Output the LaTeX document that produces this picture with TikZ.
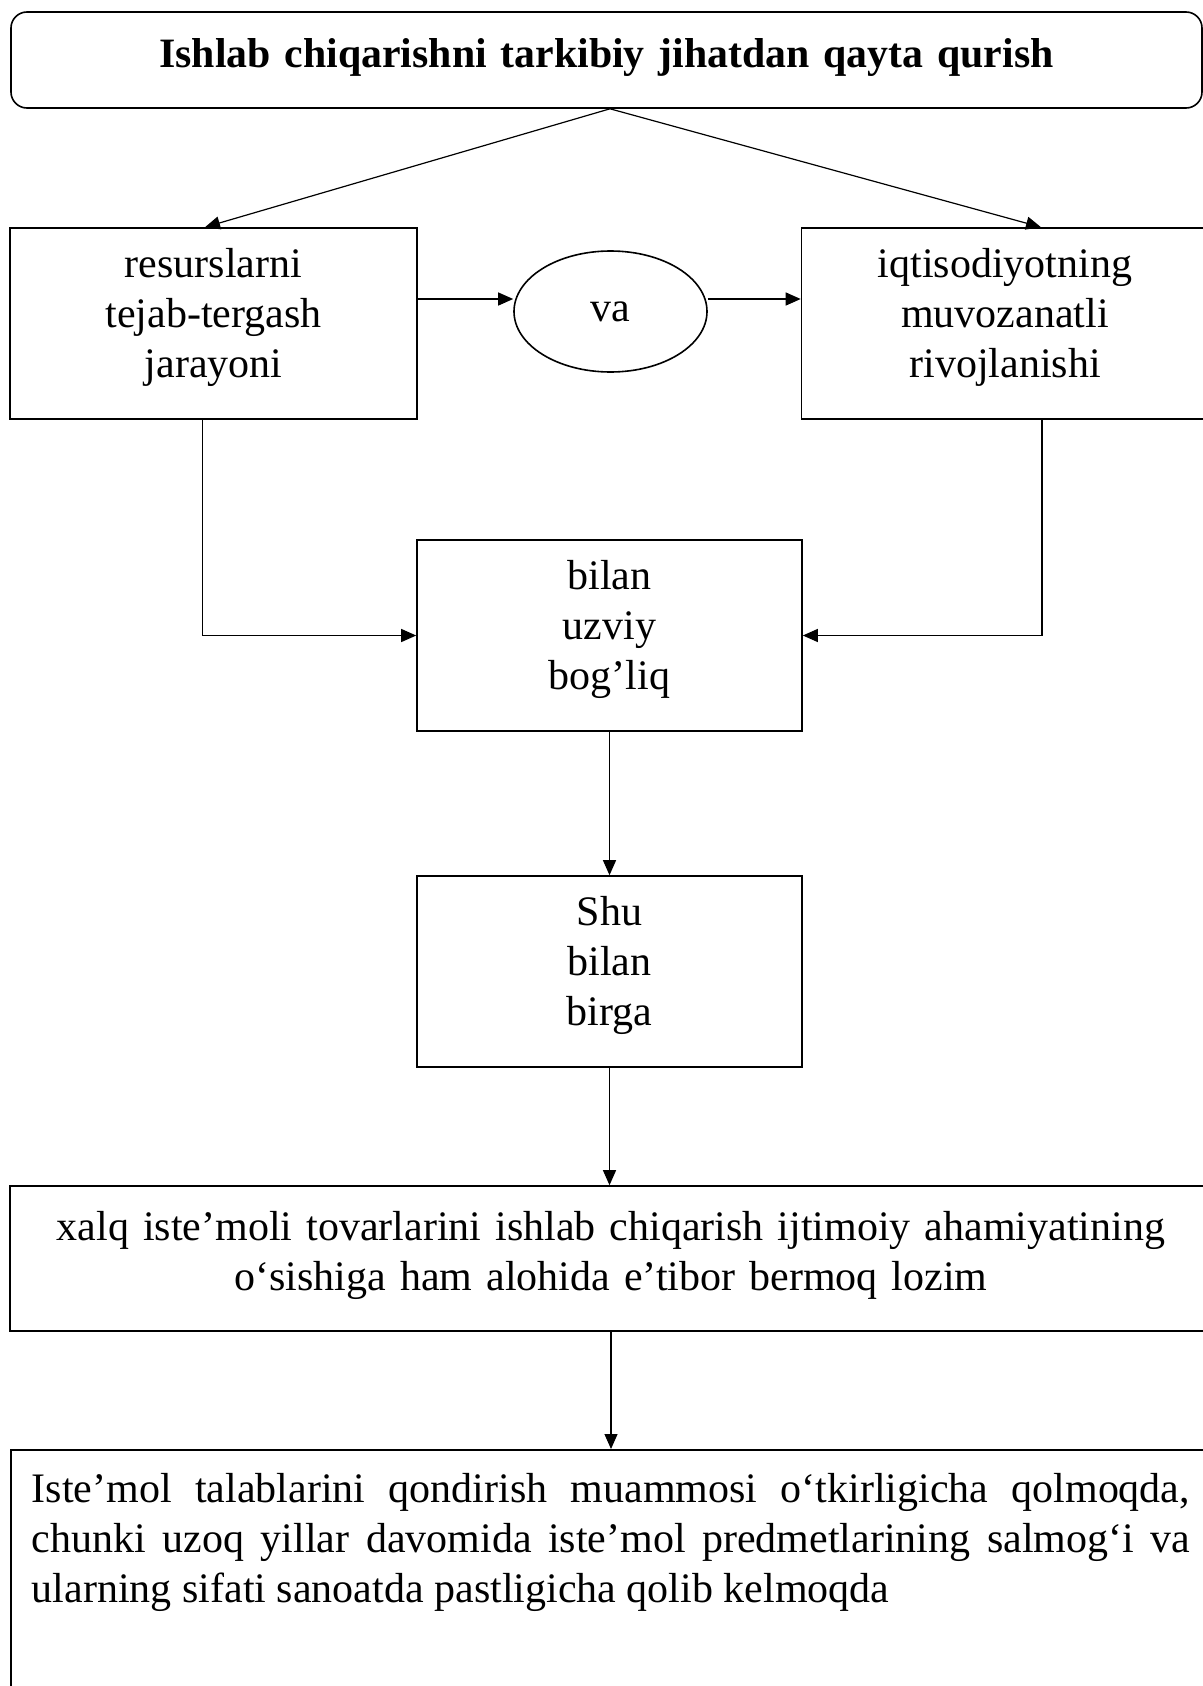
\documentclass[tikz,border=0pt]{standalone}
\usepackage{fontspec}
\setmainfont{Liberation Serif}
\usetikzlibrary{arrows.meta,calc,shapes.geometric}
\tikzset{
  base/.style={
    draw, line width=0.8pt, align=center, inner sep=4pt,
    font=\fontsize{21}{25}\selectfont
  },
  head/.style={
    base, rounded corners=8pt, minimum width=595.5pt, minimum height=48pt,
    text width=580pt, text height=14pt, text depth=6pt,
    font=\fontsize{20.9}{25}\selectfont\bfseries
  },
  block/.style={
    base, minimum width=203.5pt, minimum height=95.5pt,
    text width=190pt, text height=12pt, text depth=58pt
  },
  midblock/.style={block, minimum width=192.5pt, text width=180pt},
  oval/.style={base, ellipse, minimum width=96.5pt, minimum height=60.5pt, inner sep=0pt},
  wide/.style={
    base, minimum width=601pt, minimum height=72.5pt,
    text width=585pt, text height=12pt, text depth=30pt
  },
  note/.style={
    base, anchor=north, align=justify, text width=579pt,
    inner xsep=10.5pt, inner ysep=6.5pt, text height=20pt, text depth=170pt
  },
  link/.style={-{Triangle[length=7.5pt,width=6.5pt]}, line width=0.6pt}
}
\begin{document}
\begin{tikzpicture}[x=0.5pt,y=-0.5pt]
  \fill[white] (0,0) rectangle (1203,1686);
  \useasboundingbox (0,0) rectangle (1203,1686);
  \node[head] (title) at (606.5,60) {Ishlab chiqarishni tarkibiy jihatdan qayta qurish};
  \node[block] (res) at (213.5,323.5) {resurslarni\\tejab-tergash\\jarayoni};
  \node[oval] (va) at (610.5,311.5) {va};
  \node[block] (iqt) at (1005,323.5) {iqtisodiyotning\\muvozanatli\\rivojlanishi};
  \node[midblock] (uzviy) at (609.5,635.5) {bilan\\uzviy\\bog’liq};
  \node[midblock] (birga) at (609.5,971.5) {Shu\\bilan\\birga};
  \node[wide] (xalq) at (611,1258.5)
    {xalq iste’moli tovarlarini ishlab chiqarish ijtimoiy ahamiyatining\\o‘sishiga ham alohida e’tibor bermoq lozim};
  \node[note] (talab) at (611,1449)
    {Iste’mol talablarini qondirish muammosi o‘tkirligicha qolmoqda,\linebreak
     chunki uzoq yillar davomida iste’mol predmetlarining salmog‘i va\linebreak
     ularning sifati sanoatda pastligicha qolib kelmoqda};
  \coordinate (row) at (0,299);
  % top split
  \draw[link] ([xshift=1.75pt]title.south) -- ([xshift=-4.25pt]res.north);
  \draw[link] ([xshift=1.75pt]title.south) -- ([xshift=18pt]iqt.north);
  \draw[link] (res.east |- row) -- (va.west |- row);
  \draw[link] (va.east |- row) -- (iqt.west |- row);
  % join
  \draw[link] ([xshift=-5.5pt]res.south) |- (uzviy.west);
  \draw[link] ([xshift=18.5pt]iqt.south) |- (uzviy.east);
  \draw[link] (uzviy) -- (birga);
  \draw[link] (birga.south) -- (birga.south |- xalq.north);
  \draw[link] (xalq.south) -- (talab.north);
\end{tikzpicture}
\end{document}
